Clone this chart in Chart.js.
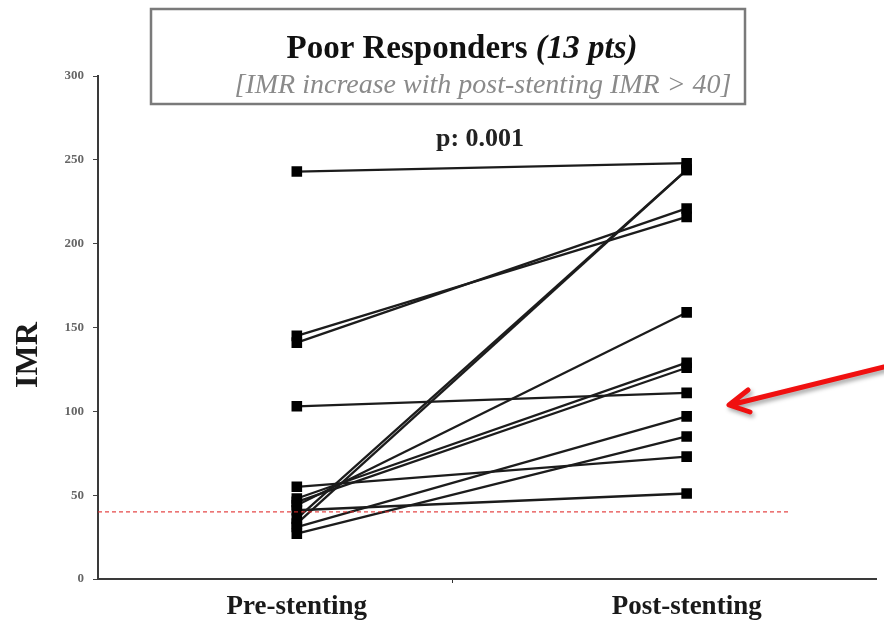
<!DOCTYPE html>
<html>
<head>
<meta charset="utf-8">
<script src="https://cdn.jsdelivr.net/npm/chart.js@4.4.1/dist/chart.umd.min.js"></script>
<style>
  html, body { margin: 0; padding: 0; background: #fff; }
  canvas { display: block; }
</style>
</head>
<body>
<canvas id="imrChart" width="884" height="634"></canvas>
<script>
// IMR per patient, before and after stenting (same order in both arrays)
const preStenting = [243, 145, 141, 103, 36, 33, 44, 48, 46, 31, 27, 55, 41];
const postStenting = [248, 216, 221, 111, 244, 244, 159, 129, 126, 97, 85, 73, 51];
const phaseLabels = ["Pre-stenting", "Post-stenting"];
const yTicks = [0, 50, 100, 150, 200, 250, 300];
const imrCutoff = 40;

const serif = "'Liberation Serif', 'Times New Roman', serif";

// one dataset per patient: a segment from pre to post
const patientSets = preStenting.map((pre, i) => ({
  data: [
    { x: 0, y: pre },
    { x: 1, y: postStenting[i] },
  ],
  borderColor: "#1c1c1c",
  borderWidth: 2.3,
  pointStyle: "rect",
  pointRadius: 7.5,
  pointBorderWidth: 0,
  pointBackgroundColor: "#000",
}));

const cutoffSet = {
  data: [
    { x: -0.51, y: imrCutoff },
    { x: 1.265, y: imrCutoff },
  ],
  borderColor: "rgba(225, 40, 40, 0.85)",
  borderWidth: 1.2,
  borderDash: [4, 3],
  pointRadius: 0,
};

// title box, axis title, p value and the red arrow
const annotations = {
  id: "annotations",
  afterDraw(chart) {
    const ctx = chart.ctx;
    ctx.save();

    // boxed title
    ctx.fillStyle = "#fff";
    ctx.fillRect(151, 9, 594, 95);
    ctx.strokeStyle = "#7a7a7a";
    ctx.lineWidth = 2.5;
    ctx.strokeRect(151, 9, 594, 95);

    ctx.fillStyle = "#111";
    ctx.textBaseline = "alphabetic";
    const t1 = "Poor Responders ";
    const t2 = "(13 pts)";
    const f1 = "bold 33px " + serif;
    const f2 = "italic bold 33px " + serif;
    ctx.font = f1;
    const w1 = ctx.measureText(t1).width;
    ctx.font = f2;
    const w2 = ctx.measureText(t2).width;
    const x = 462 - (w1 + w2) / 2;
    ctx.font = f1;
    ctx.fillText(t1, x, 58);
    ctx.font = f2;
    ctx.fillText(t2, x + w1, 58);

    ctx.fillStyle = "#8a8a8a";
    ctx.font = "italic 28px " + serif;
    ctx.textAlign = "center";
    ctx.fillText("[IMR increase with post-stenting IMR > 40]", 483, 93);

    ctx.fillStyle = "#222";
    ctx.font = "bold 26px " + serif;
    ctx.fillText("p: 0.001", 480, 146);

    // y axis title
    ctx.save();
    ctx.translate(37, 355);
    ctx.rotate(-Math.PI / 2);
    ctx.fillStyle = "#1a1a1a";
    ctx.font = "bold 32px " + serif;
    ctx.fillText("IMR", 0, 0);
    ctx.restore();

    // arrow
    ctx.shadowColor = "rgba(0,0,0,0.35)";
    ctx.shadowBlur = 4;
    ctx.shadowOffsetX = 2;
    ctx.shadowOffsetY = 3;
    ctx.strokeStyle = "#f01010";
    ctx.lineWidth = 5;
    ctx.lineCap = "round";
    ctx.lineJoin = "round";
    ctx.beginPath();
    ctx.moveTo(884, 367);
    ctx.lineTo(730, 405);
    ctx.moveTo(748, 390);
    ctx.lineTo(729, 405);
    ctx.lineTo(750, 412);
    ctx.stroke();

    ctx.restore();
  },
};

function drawChart() {
  const ctx = document.getElementById("imrChart").getContext("2d");
  const config = {
    type: "line",
    data: { datasets: [cutoffSet, ...patientSets] },
    plugins: [annotations],
    options: {
      responsive: false,
      animation: false,
      layout: { padding: { top: 76, right: 0, bottom: 0, left: 0 } },
      plugins: {
        legend: { display: false },
        tooltip: { enabled: false },
      },
      scales: {
        x: {
          type: "linear",
          min: -0.51,
          max: 1.487,
          afterBuildTicks: (scale) => {
            scale.ticks = [{ value: 0 }, { value: 0.4 }, { value: 1 }];
          },
          afterFit: (scale) => {
            scale.height = 55;
          },
          border: { display: true, color: "#3a3a3a", width: 2 },
          grid: {
            drawOnChartArea: false,
            drawTicks: true,
            tickLength: 4,
            color: (c) => (c.tick && c.tick.value === 0.4 ? "#333" : "rgba(0,0,0,0)"),
          },
          ticks: {
            autoSkip: false,
            maxRotation: 0,
            padding: 8,
            color: "#1a1a1a",
            font: { family: serif, size: 27, weight: "bold" },
            callback: (v) => (v === 0 ? phaseLabels[0] : v === 1 ? phaseLabels[1] : ""),
          },
        },
        y: {
          min: 0,
          max: 300,
          afterBuildTicks: (scale) => {
            scale.ticks = yTicks.map((v) => ({ value: v }));
          },
          afterFit: (scale) => {
            scale.width = 98;
          },
          border: { display: true, color: "#3a3a3a", width: 2 },
          grid: {
            drawOnChartArea: false,
            drawTicks: true,
            tickLength: 5,
            color: "#444",
          },
          ticks: {
            padding: 9,
            color: "#666",
            font: { family: serif, size: 13, weight: "bold" },
          },
        },
      },
    },
  };
  new Chart(ctx, config);
}

document.addEventListener("DOMContentLoaded", drawChart);
</script>
</body>
</html>
